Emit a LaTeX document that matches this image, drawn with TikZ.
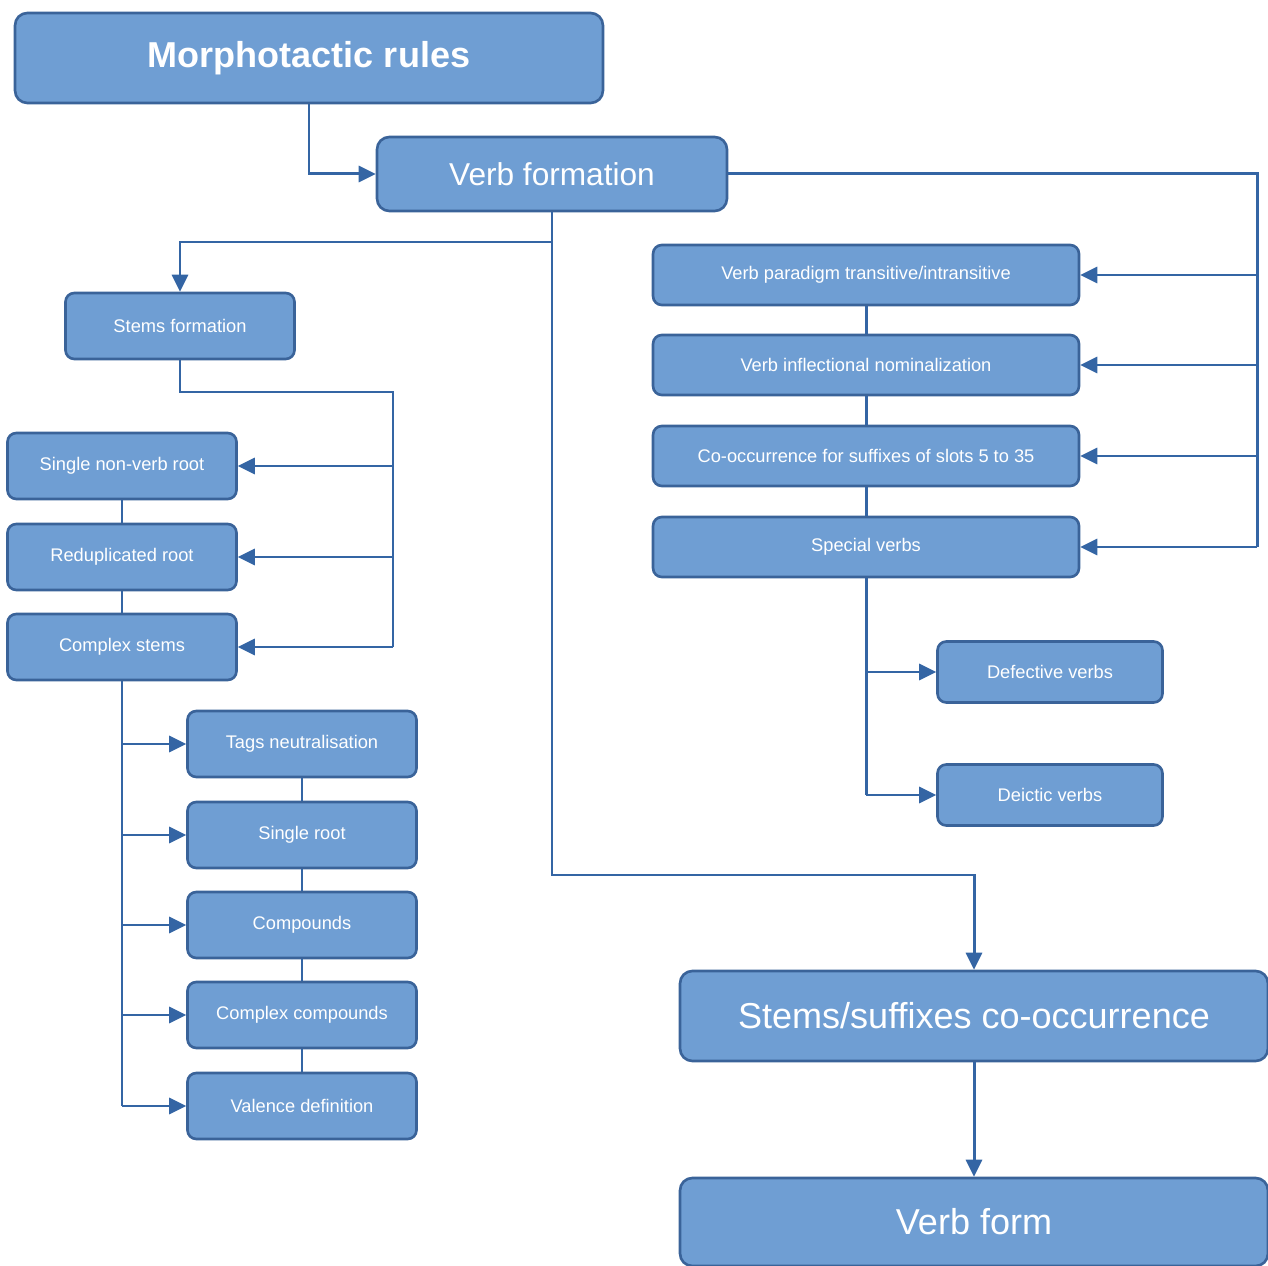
\documentclass[tikz,border=0pt]{standalone}
\usepackage{fontspec}
\setmainfont{Liberation Sans}
\usetikzlibrary{arrows.meta}
\definecolor[named]{BoxFill}{HTML}{6F9ED3}
\definecolor[named]{BoxLine}{HTML}{3A6399}
\definecolor[named]{LinkBlue}{HTML}{3465A4}
\tikzset{
  box/.style={draw=BoxLine,fill=BoxFill,line width=1.5pt,rounded corners=5pt,
    text=white,align=center,inner sep=0pt},
  bigbox/.style={box,rounded corners=7pt,minimum width=11.76cm,minimum height=1.8cm,
    font=\fontsize{20.5}{24}\selectfont},
  midbox/.style={box,rounded corners=7pt,minimum width=7cm,minimum height=1.48cm,
    font=\fontsize{18}{22}\selectfont},
  rbox/.style={box,minimum width=8.52cm,minimum height=1.2cm,
    font=\fontsize{10.4}{12}\selectfont},
  lbox/.style={box,minimum width=4.58cm,minimum height=1.32cm,
    font=\fontsize{10.4}{12}\selectfont},
  vbox/.style={box,minimum width=4.5cm,minimum height=1.22cm,
    font=\fontsize{10.4}{12}\selectfont},
  link/.style={draw=LinkBlue,line width=1.7pt},
  arr/.style={link,-{Triangle[length=0.34cm,width=0.32cm]}},
}

\begin{document}
\begin{tikzpicture}[x=0.02cm,y=-0.02cm]
    \useasboundingbox (0,0) rectangle (1268,1266);

    % Nodes
    \node[bigbox,font=\fontsize{20.5}{24}\selectfont\bfseries] (morph) at (309,58) {Morphotactic rules};
    \node[midbox] (vform) at (552,174) {Verb formation};

    \node[rbox] (paradigm) at (866,275) {Verb paradigm transitive/intransitive};
    \node[rbox] (inflect) at (866,365) {Verb inflectional nominalization};
    \node[rbox] (cooc) at (866,456) {Co-occurrence for suffixes of slots 5 to 35};
    \node[rbox] (special) at (866,547) {Special verbs};
    \node[vbox] (defective) at (1050,672) {Defective verbs};
    \node[vbox] (deictic) at (1050,795) {Deictic verbs};

    \node[lbox] (stems) at (180,326) {Stems formation};
    \node[lbox] (nonverb) at (122,466) {Single non-verb root};
    \node[lbox] (redup) at (122,557) {Reduplicated root};
    \node[lbox] (cstems) at (122,647) {Complex stems};
    \node[lbox] (tags) at (302,744) {Tags neutralisation};
    \node[lbox] (sroot) at (302,835) {Single root};
    \node[lbox] (compounds) at (302,925) {Compounds};
    \node[lbox] (ccompounds) at (302,1015) {Complex compounds};
    \node[lbox] (valence) at (302,1106) {Valence definition};

    \node[bigbox] (ssuf) at (974,1016) {Stems/suffixes co-occurrence};
    \node[bigbox,minimum height=1.76cm] (vfinal) at (974,1222) {Verb form};

    % Bus coordinates
    \coordinate (rbus) at (1257,174);
    \coordinate (vknee) at (552,242);
    \coordinate (vdrop) at (552,875);
    \coordinate (sknee) at (393,392);

    % Connectors
    \draw[arr] (morph.south) |- (vform.west);

    \draw[link] (vform.east) -- (rbus) -- (rbus |- special.east);
    \foreach \n in {paradigm,inflect,cooc,special}
      \draw[arr] (rbus |- \n.east) -- (\n.east);
    \draw[link] (paradigm) -- (inflect);
    \draw[link] (inflect) -- (cooc);
    \draw[link] (cooc) -- (special);
    \draw[link] (special.south) -- (special.south |- deictic.west);
    \foreach \n in {defective,deictic}
      \draw[arr] (special.south |- \n.west) -- (\n.west);

    \draw[arr] (vform.south) -- (vknee) -| (stems.north);
    \draw[arr] (vknee) -- (vdrop) -| (ssuf.north);
    \draw[arr] (ssuf) -- (vfinal);

    \draw[link] (stems.south) |- (sknee) -- (sknee |- cstems.east);
    \foreach \n in {nonverb,redup,cstems}
      \draw[arr] (sknee |- \n.east) -- (\n.east);
    \draw[link] (nonverb) -- (redup);
    \draw[link] (redup) -- (cstems);

    \draw[link] (cstems.south) -- (cstems.south |- valence.west);
    \foreach \n in {tags,sroot,compounds,ccompounds,valence}
      \draw[arr] (cstems.south |- \n.west) -- (\n.west);
    \draw[link] (tags) -- (sroot);
    \draw[link] (sroot) -- (compounds);
    \draw[link] (compounds) -- (ccompounds);
    \draw[link] (ccompounds) -- (valence);

\end{tikzpicture}
\end{document}
